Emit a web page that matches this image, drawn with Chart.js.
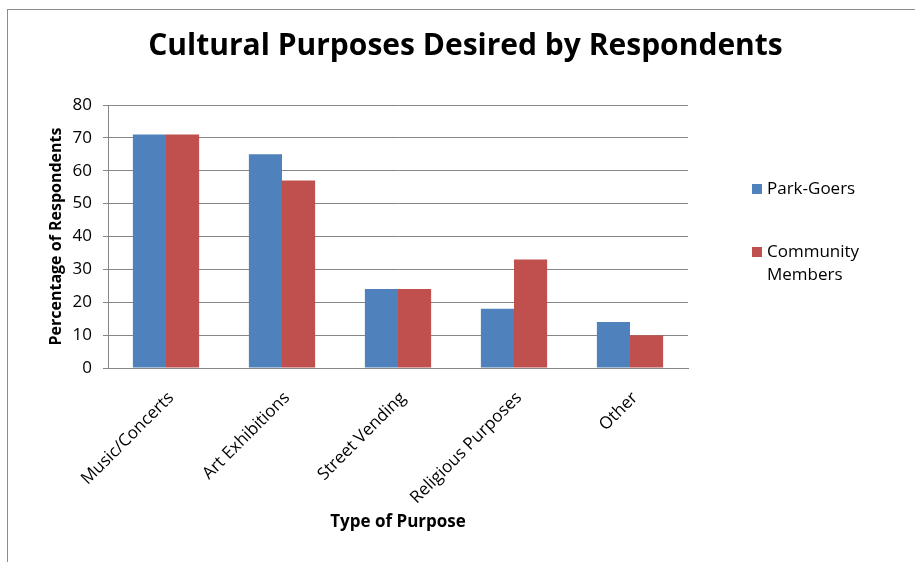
<!DOCTYPE html>
<html>
<head>
<meta charset="utf-8">
<script src="https://cdn.jsdelivr.net/npm/chart.js@4.4.1/dist/chart.umd.min.js"></script>
<style>
  html, body { margin: 0; padding: 0; background: #fff; }
  #wrap { position: relative; width: 915px; height: 562px; overflow: hidden; }
  #frame { position: absolute; left: 7px; top: 9px; width: 1000px; height: 1000px;
           border-left: 1px solid #8c8c8c; border-top: 1px solid #8c8c8c; }
  canvas { position: absolute; left: 0; top: 0; }
</style>
</head>
<body>
<div id="wrap">
  <div id="frame"></div>
  <canvas id="chart" width="915" height="562"></canvas>
</div>
<script>
  var categories = ["Music/Concerts", "Art Exhibitions", "Street Vending", "Religious Purposes", "Other"];
  var parkGoers = [71, 65, 24, 18, 14];
  var communityMembers = [71, 57, 24, 33, 10];
  var seriesNames = ["Park-Goers", ["Community", "Members"]];
  var seriesColors = ["#4F81BD", "#C0504D"];
  var yTicks = [0, 10, 20, 30, 40, 50, 60, 70, 80];
  var chartTitle = "Cultural Purposes Desired by Respondents";

  var font = "'Open Sans', sans-serif";

  // title + legend drawn by hand, Excel style (title centred on the whole chart, legend text wrapped)
  var extras = {
    id: "extras",
    afterDraw: function(chart) {
      var ctx = chart.ctx;
      var area = chart.chartArea;
      ctx.save();
      ctx.fillStyle = "#000";
      ctx.textAlign = "center";
      ctx.textBaseline = "middle";
      ctx.font = "bold 30px " + font;
      ctx.fillText(chartTitle, chart.width / 2 + 8, 46);

      ctx.textAlign = "left";
      ctx.font = "17px " + font;
      var x = area.right + 64;
      var rows = [area.top + 84, area.top + 147];
      for (var i = 0; i < seriesNames.length; i++) {
        var y = rows[i];
        ctx.fillStyle = seriesColors[i];
        ctx.fillRect(x, y - 5, 10, 10);
        ctx.fillStyle = "#000";
        var lines = [].concat(seriesNames[i]);
        for (var j = 0; j < lines.length; j++) {
          ctx.fillText(lines[j], x + 15, y + j * 23);
        }
      }
      ctx.restore();
    }
  };

  var chart = new Chart(document.getElementById("chart").getContext("2d"), {
    type: "bar",
    data: {
      labels: categories,
      datasets: [
        { label: "Park-Goers", data: parkGoers, backgroundColor: seriesColors[0] },
        { label: "Community Members", data: communityMembers, backgroundColor: seriesColors[1] }
      ]
    },
    options: {
      responsive: false,
      animation: false,
      layout: { padding: { left: 43, right: 227, top: 105, bottom: 26 } },
      datasets: { bar: { categoryPercentage: 0.571, barPercentage: 1.0 } },
      plugins: {
        legend: { display: false },
        tooltip: { enabled: false },
        title: { display: false }
      },
      scales: {
        x: {
          grid: { display: false, drawTicks: false },
          border: { color: "#868686", width: 1 },
          ticks: {
            color: "#000",
            font: { family: font, size: 17 },
            maxRotation: 45, minRotation: 45,
            padding: 20,
            labelOffset: 5
          },
          title: {
            display: true,
            text: "Type of Purpose",
            color: "#000",
            font: { family: font, size: 17, weight: "bold" }
          },
          afterFit: function(scale) { scale.height = 168; }
        },
        y: {
          min: 0, max: 80,
          afterBuildTicks: function(scale) {
            scale.ticks = yTicks.map(function(v) { return { value: v }; });
          },
          grid: { color: "#868686", tickLength: 5, tickColor: "#868686" },
          border: { color: "#868686", width: 1 },
          ticks: {
            color: "#000",
            font: { family: font, size: 17 },
            padding: 11
          },
          title: {
            display: true,
            text: "Percentage of Respondents",
            color: "#000",
            font: { family: font, size: 16, weight: "bold" }
          },
          afterFit: function(scale) { scale.width = 65; }
        }
      }
    },
    plugins: [extras]
  });
</script>
</body>
</html>
